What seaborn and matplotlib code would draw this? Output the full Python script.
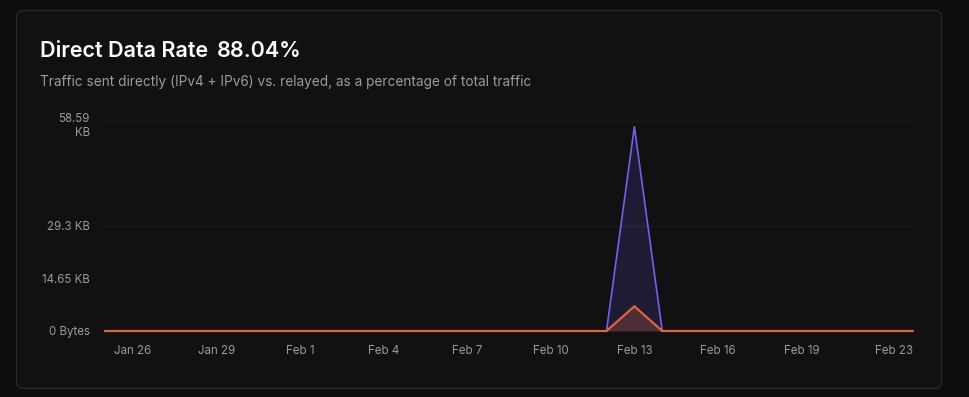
import pandas as pd
import matplotlib.pyplot as plt
import matplotlib.transforms as mtransforms
import seaborn as sns
from matplotlib.patches import FancyBboxPatch

# data (KB per day)
days = pd.date_range('2025-01-25', '2025-02-23', freq='D')
direct_kb = [0, 0, 0, 0, 0, 0, 0, 0, 0, 0,
             0, 0, 0, 0, 0, 0, 0, 0, 0, 57.0,
             0, 0, 0, 0, 0, 0, 0, 0, 0, 0]
relayed_kb = [0, 0, 0, 0, 0, 0, 0, 0, 0, 0,
              0, 0, 0, 0, 0, 0, 0, 0, 0, 6.9,
              0, 0, 0, 0, 0, 0, 0, 0, 0, 0]
x_tick_dates = pd.to_datetime(['2025-01-26', '2025-01-29', '2025-02-01', '2025-02-04', '2025-02-07',
                               '2025-02-10', '2025-02-13', '2025-02-16', '2025-02-19', '2025-02-23'])
x_tick_labels = ['Jan 26', 'Jan 29', 'Feb 1', 'Feb 4', 'Feb 7', 'Feb 10', 'Feb 13', 'Feb 16', 'Feb 19', 'Feb 23']
y_ticks = [0, 14.65, 29.3, 58.59]
y_tick_labels = ['0 Bytes', '14.65 KB', '29.3 KB', '58.59\nKB']
grid_values = [29.3, 58.59]

df = pd.DataFrame({'day': days, 'direct': direct_kb, 'relayed': relayed_kb})

sns.set_theme(style='dark')
plt.rcParams['font.family'] = ['Inter', 'DejaVu Sans']

W, H = 970, 397
fig = plt.figure(figsize=(W / 100, H / 100), dpi=100)
fig.patch.set_facecolor('#0d0d0e')

# card background
bg = fig.add_axes([0, 0, 1, 1])
bg.set_xlim(0, W)
bg.set_ylim(H, 0)
bg.axis('off')
bg.add_patch(FancyBboxPatch((16.5, 10.5), 925, 378, boxstyle='round,pad=0,rounding_size=7',
                            facecolor='#111112', edgecolor='#2a2a2c', linewidth=0.9))

title = fig.text(40 / W, 1 - 51 / H, 'Direct Data Rate', color='white', fontsize=15.5,
                 fontweight='semibold', va='center', ha='left')
fig.canvas.draw()
tb = title.get_window_extent()
fig.text((tb.x1 + 9) / W, 1 - 51 / H, '88.04%', color='white', fontsize=15.5,
         fontweight='semibold', va='center', ha='left')
fig.text(40 / W, 1 - 82 / H,
         'Traffic sent directly (IPv4 + IPv6) vs. relayed, as a percentage of total traffic',
         color='#9b9ba0', fontsize=9.8, va='center', ha='left')

left, right, top, bottom = 105, 913, 115, 331
ax = fig.add_axes([left / W, 1 - bottom / H, (right - left) / W, (bottom - top) / H])
ax.set_facecolor('#111112')

for v in grid_values:
    ax.axhline(v, color='#1b1b1e', linewidth=1, zorder=0)

ax.fill_between(df['day'], df['direct'], color='#6b5cf5', alpha=0.15, linewidth=0, zorder=1)
ax.fill_between(df['day'], df['relayed'], color='#e0643f', alpha=0.25, linewidth=0, zorder=2)
sns.lineplot(data=df, x='day', y='direct', color='#6e62f2', linewidth=1.2, ax=ax, zorder=3, clip_on=False)
sns.lineplot(data=df, x='day', y='relayed', color='#e2653f', linewidth=1.6, ax=ax, zorder=4, clip_on=False)

ax.set_xlim(days[0], days[-1])
ax.set_ylim(0, 58.59 * (bottom - top) / (bottom - 121))
ax.set_xlabel('')
ax.set_ylabel('')
for s in ax.spines.values():
    s.set_visible(False)

ax.set_yticks(y_ticks)
ax.set_yticklabels(y_tick_labels)
ax.set_xticks(x_tick_dates)
ax.set_xticklabels(x_tick_labels)
ax.tick_params(axis='both', length=0, colors='#9a9a9e', labelsize=8.3)
ax.tick_params(axis='y', pad=11)
ax.tick_params(axis='x', pad=10)
ax.get_xticklabels()[-1].set_ha('right')
top_lab = ax.get_yticklabels()[-1]
top_lab.set_transform(top_lab.get_transform() + mtransforms.ScaledTranslation(0, -3 / 100, fig.dpi_scale_trans))
ax.grid(False)

fig.savefig('out.png', dpi=100, facecolor=fig.get_facecolor())
